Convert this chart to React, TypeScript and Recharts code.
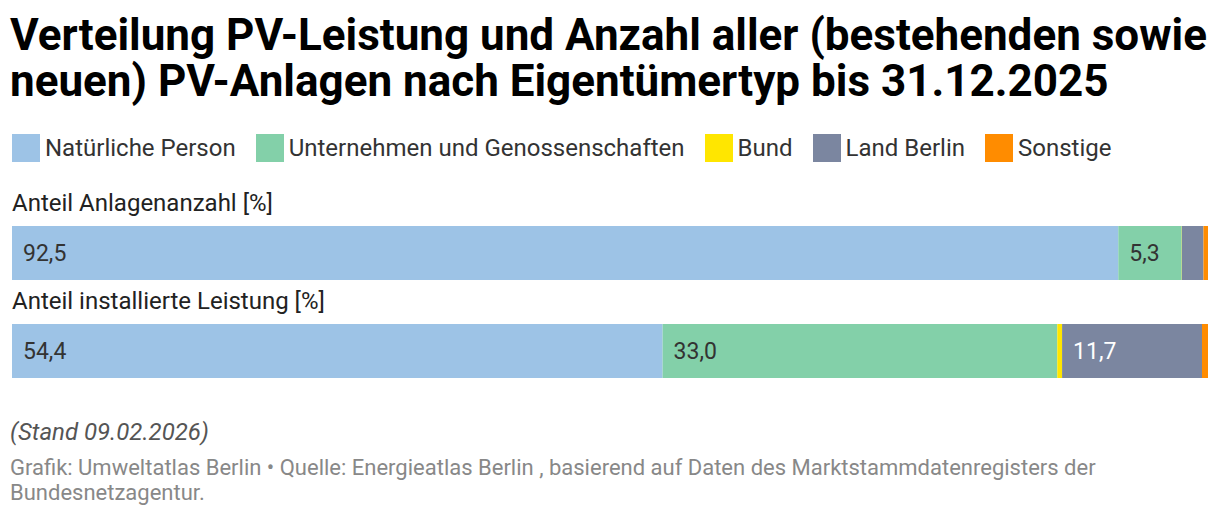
import React from "react";
import { BarChart, Bar, XAxis, YAxis, LabelList } from "recharts";

const categories = ["Anteil Anlagenanzahl [%]", "Anteil installierte Leistung [%]"];
const seriesNames = ["Natürliche Person", "Unternehmen und Genossenschaften", "Bund", "Land Berlin", "Sonstige"];
const natuerlich = [92.5, 54.4];
const unternehmen = [5.3, 33.0];
const bund = [0.02, 0.4];
const landBerlin = [1.8, 11.7];
const sonstige = [0.38, 0.5];

const colors = ["#9dc3e6", "#83d0a9", "#ffe600", "#7b86a0", "#ff8c00"];
const labelColors = ["#333333", "#333333", "#333333", "#ffffff", "#333333"];
const keys = ["nat", "unt", "bund", "land", "sonst"];

const data = categories.map((name, i) => ({
  name,
  nat: natuerlich[i],
  unt: unternehmen[i],
  bund: bund[i],
  land: landBerlin[i],
  sonst: sonstige[i],
}));

const FONT = "Roboto, sans-serif";

const fmt = (v: number) => v.toFixed(1).replace(".", ",");

const makeValueLabel = (color: string) => (props: any) => {
  const { x, y, width, height, value } = props;
  if (value == null || value < 3) return null;
  return (
    <text
      x={x + 11}
      y={y + height / 2}
      dy="0.35em"
      fill={color}
      fontSize={23}
      fontFamily={FONT}
    >
      {fmt(value)}
    </text>
  );
};

const CategoryLabel = (props: any) => {
  const { y, index } = props;
  return (
    <text x={12} y={y - 15} fill="#222" fontSize={24} fontFamily={FONT}>
      {categories[index]}
    </text>
  );
};

export default function App() {
  return (
    <div style={{ position: "relative", width: 1220, height: 520, margin: -8, background: "#fff", fontFamily: FONT, overflow: "hidden" }}>
      <div style={{ position: "absolute", left: 10, top: 12, fontSize: 44, fontWeight: 700, lineHeight: "46px", color: "#000", width: 1210 }}>
        Verteilung PV-Leistung und Anzahl aller (bestehenden sowie neuen) PV-Anlagen nach Eigentümertyp bis 31.12.2025
      </div>
      <div style={{ position: "absolute", left: 12, top: 134, display: "flex", alignItems: "center", fontSize: 24, lineHeight: "28px", color: "#333" }}>
        {seriesNames.map((n, i) => (
          <div key={n} style={{ display: "flex", alignItems: "center", marginRight: 20 }}>
            <div style={{ width: 28, height: 28, background: colors[i], marginRight: 5 }} />
            <span>{n}</span>
          </div>
        ))}
      </div>
      <div style={{ position: "absolute", left: 0, top: 174 }}>
        <BarChart
          width={1220}
          height={226}
          data={data}
          layout="vertical"
          margin={{ top: 30, right: 12, bottom: 0, left: 12 }}
          barCategoryGap={44}
        >
          <XAxis type="number" domain={[0, 100]} hide />
          <YAxis type="category" dataKey="name" hide />
          {keys.map((k, i) => (
            <Bar key={k} dataKey={k} stackId="a" fill={colors[i]} barSize={54} isAnimationActive={false}>
              {i === 0 && <LabelList dataKey={k} content={CategoryLabel} />}
              <LabelList dataKey={k} content={makeValueLabel(labelColors[i])} />
            </Bar>
          ))}
        </BarChart>
      </div>
      <div style={{ position: "absolute", left: 10, top: 418, fontSize: 24, lineHeight: "28px", fontStyle: "italic", color: "#555" }}>
        (Stand 09.02.2026)
      </div>
      <div style={{ position: "absolute", left: 10, top: 455, fontSize: 22, lineHeight: "25px", color: "#888", width: 1150 }}>
        Grafik: Umweltatlas Berlin • Quelle: Energieatlas Berlin , basierend auf Daten des Marktstammdatenregisters der Bundesnetzagentur.
      </div>
    </div>
  );
}
